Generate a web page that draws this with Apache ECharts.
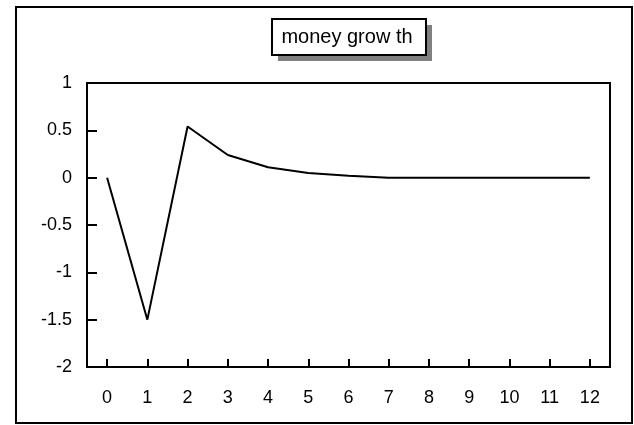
<!DOCTYPE html>
<html>
<head>
<meta charset="utf-8">
<script src="https://cdn.jsdelivr.net/npm/echarts@6/dist/echarts.min.js"></script>
<style>
  html, body { margin: 0; padding: 0; background: #fff; }
  #chart { width: 634px; height: 425px; }
</style>
</head>
<body>
<div id="chart"></div>
<script>
// money growth response
const periods = ['0', '1', '2', '3', '4', '5', '6', '7', '8', '9', '10', '11', '12'];
const moneyGrowth = [0, -1.5, 0.54, 0.24, 0.11, 0.05, 0.02, 0, 0, 0, 0, 0, 0];
const titleText = 'money grow th';

const chart = echarts.init(document.getElementById('chart'));

const font = 'Liberation Sans, Arial, sans-serif';

const option = {
    animation: false,
    backgroundColor: '#fff',
    grid: {
        left: 87, top: 83, width: 523, height: 284,
        show: true, borderColor: '#000', borderWidth: 2
    },
    xAxis: {
        type: 'category',
        data: periods,
        boundaryGap: true,
        axisLine: { onZero: false, lineStyle: { color: '#000', width: 2 } },
        axisTick: { show: true, inside: true, length: 8, alignWithLabel: true, interval: 0,
                    lineStyle: { color: '#000', width: 2 } },
        axisLabel: { color: '#000', fontSize: 18, fontFamily: font, margin: 22, interval: 0 },
        splitLine: { show: false }
    },
    yAxis: {
        type: 'value',
        min: -2, max: 1, interval: 0.5,
        axisLine: { show: true, lineStyle: { color: '#000', width: 2 } },
        axisTick: { show: true, inside: true, length: 10, lineStyle: { color: '#000', width: 2 } },
        axisLabel: { color: '#000', fontSize: 18, fontFamily: font, margin: 15 },
        splitLine: { show: false }
    },
    series: [{
        type: 'line',
        data: moneyGrowth,
        showSymbol: false,
        lineStyle: { color: '#000', width: 2 }
    }],
    graphic: [
        // outer frame
        { type: 'rect', shape: { x: 16, y: 7, width: 616, height: 416 },
          style: { fill: null, stroke: '#000', lineWidth: 2 } },
        // title box with shadow
        { type: 'rect', shape: { x: 278, y: 25, width: 154, height: 36 },
          style: { fill: '#808080' } },
        { type: 'rect', shape: { x: 272, y: 19, width: 154, height: 36 },
          style: { fill: '#fff', stroke: '#000', lineWidth: 2 } },
        { type: 'text', x: 347, y: 37,
          style: { text: titleText, fill: '#000', fontSize: 20, fontFamily: font,
                   align: 'center', verticalAlign: 'middle' } }
    ]
};

chart.setOption(option);
</script>
</body>
</html>
